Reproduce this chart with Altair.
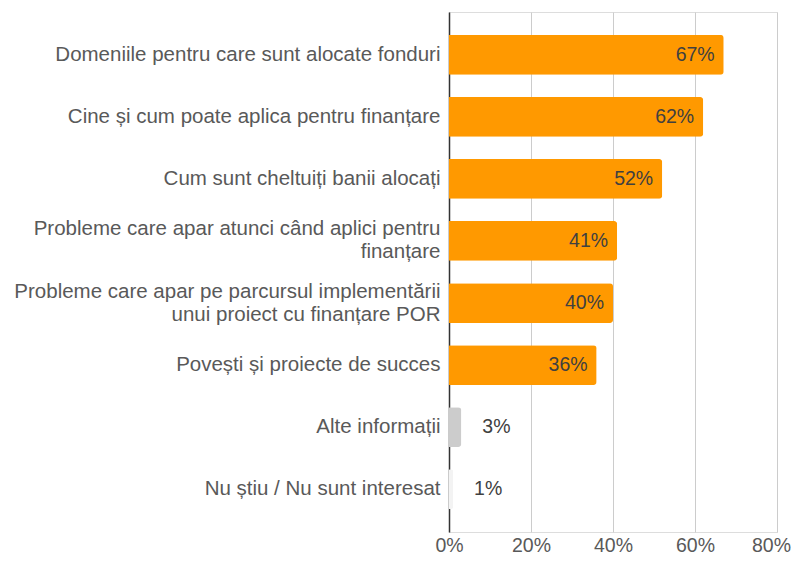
import altair as alt
import pandas as pd

categories = [
    "Domeniile pentru care sunt alocate fonduri",
    "Cine și cum poate aplica pentru finanțare",
    "Cum sunt cheltuiți banii alocați",
    "Probleme care apar atunci când aplici pentru|finanțare",
    "Probleme care apar pe parcursul implementării|unui proiect cu finanțare POR",
    "Povești și proiecte de succes",
    "Alte informații",
    "Nu știu / Nu sunt interesat",
]
values = [0.67, 0.62, 0.52, 0.41, 0.40, 0.36, 0.03, 0.01]
bar_colors = ["#ff9900", "#ff9900", "#ff9900", "#ff9900", "#ff9900", "#ff9900", "#cccccc", "#f3f3f3"]
x_ticks = [0, 0.2, 0.4, 0.6, 0.8]

df = pd.DataFrame({"cat": categories, "val": values})
df["lbl"] = [f"{round(v*100)}%" for v in values]
df["inside"] = df["val"] > 0.2

FONT = "Liberation Sans"

y_enc = alt.Y(
    "cat:N",
    sort=categories,
    scale=alt.Scale(paddingInner=0.36, paddingOuter=0.37),
    axis=alt.Axis(
        title=None,
        labelExpr="split(datum.label, '|')",
        labelFont=FONT,
        labelFontSize=20.5,
        labelColor="#595959",
        labelPadding=9,
        labelLineHeight=23,
        labelLimit=440,
        labelOffset={"condition": {"test": "indexof(datum.value, '|') >= 0", "value": -11.5}, "value": 0},
        ticks=False,
        domain=True,
        domainColor="#333333",
        domainWidth=1.5,
        grid=False,
    ),
)
x_enc = alt.X(
    "val:Q",
    scale=alt.Scale(domain=[0, 0.8]),
    axis=alt.Axis(
        title=None,
        format=".0%",
        values=x_ticks,
        labelFont=FONT,
        labelFontSize=19.5,
        labelColor="#595959",
        labelPadding=4,
        labelFlush=False,
        labelOffset={"condition": {"test": "datum.value >= 0.79", "value": -6}, "value": 0},
        ticks=False,
        domain=False,
        grid=True,
        gridColor="#cccccc",
        gridWidth=1,
    ),
)

base = alt.Chart(df)

bars = base.mark_bar(cornerRadiusTopRight=3, cornerRadiusBottomRight=3).encode(
    y=y_enc,
    x=x_enc,
    color=alt.Color("cat:N", scale=alt.Scale(domain=categories, range=bar_colors), legend=None),
)

inside = base.transform_filter("datum.inside").mark_text(
    align="right", baseline="middle", dx=-9, font=FONT, fontSize=19.5, color="#404040"
).encode(y=alt.Y("cat:N", sort=categories), x="val:Q", text="lbl:N")

outside = base.transform_filter("!datum.inside").mark_text(
    align="left", baseline="middle", dx=21, font=FONT, fontSize=19.5, color="#404040"
).encode(y=alt.Y("cat:N", sort=categories), x="val:Q", text="lbl:N")

chart = (
    alt.layer(bars, inside, outside)
    .properties(
        width=328,
        height=520,
        autosize=alt.AutoSizeParams(type="none"),
        padding={"left": 441, "top": 4, "right": 14, "bottom": 23},
    )
    .configure_view(stroke=None)
    .configure(background="white")
)

chart.save("out.html", embed_options={"renderer": "svg", "actions": False})
